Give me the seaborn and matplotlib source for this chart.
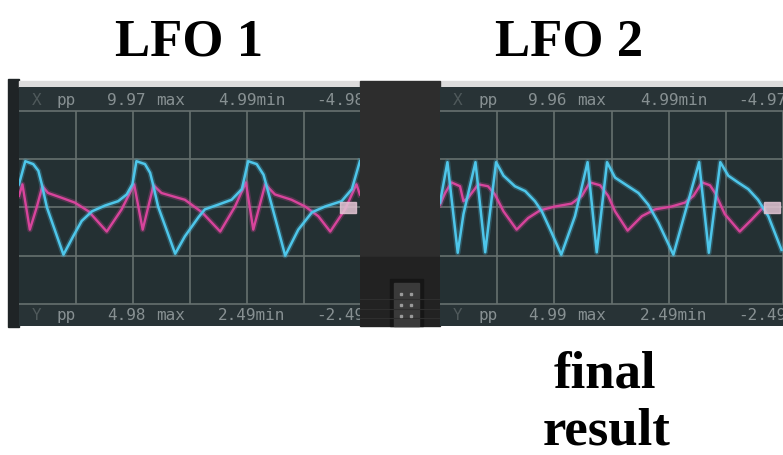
import numpy as np
import pandas as pd
import matplotlib
matplotlib.use("Agg")
import matplotlib.pyplot as plt
from matplotlib.patches import Rectangle
import seaborn as sns

# traced scope traces: t in screen divisions, v in volts
lfo1_blue_t = [0.00, 0.11, 0.25, 0.34, 0.40, 0.49, 0.78, 0.95, 1.10, 1.28,
               1.51, 1.74, 1.89, 1.99, 2.06, 2.21, 2.30, 2.36, 2.44, 2.74,
               2.91, 3.15, 3.26, 3.50, 3.73, 3.91, 4.02, 4.17, 4.29, 4.35,
               4.67, 4.90, 5.14, 5.37, 5.66, 5.84, 5.98]
lfo1_blue_v = [2.4, 4.8, 4.5, 3.8, 2.4, 0.0, -4.9, -3.0, -1.4, -0.4,
               0.2, 0.65, 1.35, 2.4, 4.8, 4.5, 3.6, 2.2, 0.1, -4.8,
               -3.0, -1.0, -0.2, 0.3, 0.8, 1.9, 4.8, 4.5, 3.4, 2.1,
               -5.0, -2.3, -0.5, 0.1, 0.65, 1.9, 4.8]
lfo1_pink_t = [0.00, 0.06, 0.19, 0.31, 0.41, 0.51, 0.75, 0.98, 1.22, 1.54,
               1.80, 2.02, 2.17, 2.36, 2.50, 2.79, 2.91, 3.21, 3.53, 3.79,
               3.98, 4.11, 4.32, 4.49, 4.78, 5.02, 5.25, 5.46, 5.72, 5.92, 5.98]
lfo1_pink_v = [1.2, 2.4, -2.3, 0.0, 2.2, 1.5, 1.0, 0.5, -0.4, -2.5,
               -0.2, 2.4, -2.3, 2.3, 1.5, 1.0, 0.8, -0.5, -2.5, 0.1,
               2.6, -2.3, 2.4, 1.35, 0.8, 0.1, -0.9, -2.5, -0.2, 2.4, 1.35]

lfo2_blue_t = [0.00, 0.13, 0.31, 0.41, 0.62, 0.79, 0.98, 1.11, 1.31, 1.49,
               1.66, 1.78, 1.95, 2.12, 2.36, 2.58, 2.74, 2.92, 3.06, 3.29,
               3.47, 3.64, 3.82, 4.08, 4.31, 4.53, 4.70, 4.90, 5.04, 5.21,
               5.39, 5.56, 5.74, 5.97]
lfo2_blue_v = [0.5, 4.7, -4.7, -0.7, 4.7, -4.65, 4.7, 3.3, 2.2, 1.7,
               0.65, -0.4, -2.6, -4.9, -0.9, 4.7, -4.65, 4.7, 3.1, 2.2,
               1.5, 0.3, -1.6, -4.9, 0.0, 4.7, -4.7, 4.7, 3.3, 2.6,
               1.9, 0.8, -0.9, -4.4]
lfo2_pink_t = [0.00, 0.09, 0.20, 0.35, 0.41, 0.49, 0.67, 0.84, 0.96, 1.11,
               1.34, 1.54, 1.75, 2.01, 2.30, 2.48, 2.62, 2.80, 2.94, 3.06,
               3.28, 3.53, 3.76, 4.05, 4.28, 4.43, 4.58, 4.72, 4.81, 4.98,
               5.24, 5.45, 5.65]
lfo2_pink_v = [0.3, 1.5, 2.6, 2.2, 0.65, 1.0, 2.4, 2.2, 1.35, -0.4,
               -2.3, -1.1, -0.3, 0.1, 0.4, 1.2, 2.6, 2.3, 1.2, -0.4,
               -2.4, -0.9, -0.2, 0.1, 0.5, 1.2, 2.6, 2.3, 1.5, -0.7,
               -2.5, -1.25, 0.0]

# readouts at top (X) and bottom (Y) of each scope
lfo1_x_text = ["X", "pp", "9.97", "max", "4.99min", "-4.98"]
lfo1_y_text = ["Y", "pp", "4.98", "max", "2.49min", "-2.49"]
lfo2_x_text = ["X", "pp", "9.96", "max", "4.99min", "-4.97"]
lfo2_y_text = ["Y", "pp", "4.99", "max", "2.49min", "-2.49"]

titles = ["LFO 1", "LFO 2"]
caption = ["final", "result"]

W, H = 783, 456
BG = "#243033"
HEAD = "#283336"
GRID = "#66706f"
BLUE = "#4ec6ea"
PINK = "#d8449c"
TXT = "#879092"


def rect(x0, y0, x1, y1):
    return [x0 / W, 1 - y1 / H, (x1 - x0) / W, (y1 - y0) / H]


fig = plt.figure(figsize=(W / 100, H / 100), dpi=100)
fig.patch.set_facecolor("white")

# background bits in pixel coords
bg = fig.add_axes([0, 0, 1, 1], zorder=-5)
bg.set_xlim(0, W)
bg.set_ylim(H, 0)
bg.axis("off")
bg.add_patch(Rectangle((8, 80), 11, 248, color="#1f2426"))
bg.add_patch(Rectangle((19, 82), 341, 6, color="#dcdcdc"))
bg.add_patch(Rectangle((440, 82), 343, 6, color="#dcdcdc"))
bg.add_patch(Rectangle((360, 82), 80, 176, color="#2d2d2d"))
bg.add_patch(Rectangle((360, 258), 80, 69, color="#222222"))
for yy in [300, 310, 319]:
    bg.plot([360, 440], [yy, yy], color="#2e2e2e", lw=0.8)
bg.add_patch(Rectangle((390, 280), 33, 47, color="#161616"))
bg.add_patch(Rectangle((394, 284), 25, 43, color="#3a3a3a"))
for dx in [401, 411]:
    for dy in [295, 306, 317]:
        bg.plot(dx, dy, "s", ms=1.6, color="#9a9a9a")

lx = [13, 38, 88, 137, 199, 297]


def scope(ax, xmax, bt, bv, pt, pv, xt, yt, cur):
    ax.set_facecolor(BG)
    ax.set_xlim(0, xmax)
    ax.set_ylim(-12.3, 12.5)
    ax.axhspan(10, 12.5, color=HEAD, zorder=0)
    ax.axhspan(-12.3, -10, color=HEAD, zorder=0)
    ax.hlines([-10, -5, 0, 5, 10], 0, xmax, color=GRID, lw=1.2, zorder=1)
    ax.vlines([1, 2, 3, 4, 5, 6], -10, 10, color=GRID, lw=1.2, zorder=1)
    df_p = pd.DataFrame({"t": pt, "v": pv})
    df_b = pd.DataFrame({"t": bt, "v": bv})
    sns.lineplot(data=df_p, x="t", y="v", ax=ax, color=PINK, lw=4,
                 alpha=0.25, estimator=None, sort=False, legend=False)
    sns.lineplot(data=df_p, x="t", y="v", ax=ax, color=PINK, lw=1.7,
                 estimator=None, sort=False, legend=False)
    sns.lineplot(data=df_b, x="t", y="v", ax=ax, color=BLUE, lw=4,
                 alpha=0.25, estimator=None, sort=False, legend=False)
    sns.lineplot(data=df_b, x="t", y="v", ax=ax, color=BLUE, lw=1.8,
                 estimator=None, sort=False, legend=False)
    ax.add_patch(Rectangle((cur - 0.14, -0.55), 0.28, 1.1,
                           color="#e2c4d4", alpha=0.85, zorder=5))
    for i, (a, b) in enumerate(zip(xt, yt)):
        c = "#4f595b" if i == 0 else TXT
        ax.text(lx[i] / 57, 11.25, a, color=c, fontsize=11.5,
                family="DejaVu Sans Mono", va="center", clip_on=True)
        ax.text(lx[i] / 57, -11.15, b, color=c, fontsize=11.5,
                family="DejaVu Sans Mono", va="center", clip_on=True)
    ax.set_xlabel("")
    ax.set_ylabel("")
    ax.set_xticks([])
    ax.set_yticks([])
    for s in ax.spines.values():
        s.set_visible(False)


ax1 = fig.add_axes(rect(19, 88, 360, 327))
scope(ax1, 341 / 57, lfo1_blue_t, lfo1_blue_v, lfo1_pink_t, lfo1_pink_v,
      lfo1_x_text, lfo1_y_text, 5.77)
ax2 = fig.add_axes(rect(440, 88, 783, 327))
scope(ax2, 343 / 57.2, lfo2_blue_t, lfo2_blue_v, lfo2_pink_t, lfo2_pink_v,
      lfo2_x_text, lfo2_y_text, 5.8)

tkw = dict(ha="center", va="baseline", fontsize=38, fontweight="bold",
           family="Liberation Serif", color="black")
fig.text(189 / W, 1 - 55 / H, titles[0], **tkw)
fig.text(569 / W, 1 - 55 / H, titles[1], **tkw)
fig.text(605 / W, 1 - 387 / H, caption[0], **tkw)
fig.text(607 / W, 1 - 445 / H, caption[1], **tkw)

plt.savefig("out.png", dpi=100)
